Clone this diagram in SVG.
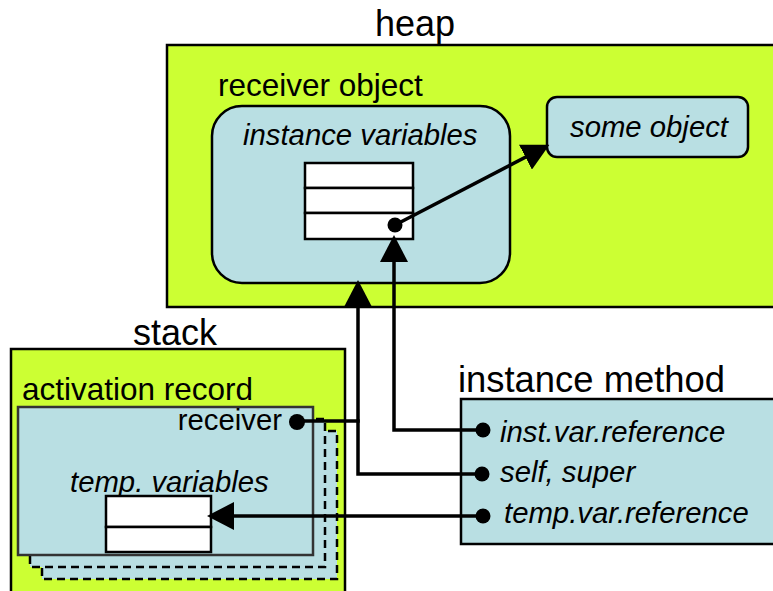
<svg xmlns="http://www.w3.org/2000/svg" width="773" height="591" viewBox="0 0 773 591">
<style>
.area{fill:#CCFF33;stroke:#000;stroke-width:2.5}
.obj{fill:#B9DFE3;stroke:#000;stroke-width:2.5}
.rec{fill:#B9DFE3;stroke:#333;stroke-width:2.5}
.dash{fill:#B9DFE3;stroke:#000;stroke-width:2.5;stroke-dasharray:8 5}
.cell{fill:#fff;stroke:#000;stroke-width:2.5}
.t{font-family:"Liberation Sans",Arial,sans-serif;fill:#000}
.big{font-size:36px}
.mid{font-size:31.5px}
.sm{font-size:29.3px}
.it{font-style:italic}
.conn{fill:none;stroke:#000;stroke-width:3.5}
.dot{fill:#000}
</style>
<defs>
<marker id="arr" markerUnits="userSpaceOnUse" viewBox="0 0 27 28" refX="22" refY="14" markerWidth="27" markerHeight="28" orient="auto">
<path d="M0,0 L27,14 L0,28 Z" fill="#000"/>
</marker>
</defs>

<g id="heap">
<text class="t big" x="375" y="36">heap</text>
<rect class="area" x="167" y="45" width="620" height="262"/>
</g>

<g id="receiver-object">
<text class="t mid" x="218" y="96">receiver object</text>
<rect class="obj" x="212" y="106" width="298" height="177" rx="30"/>
<text class="t sm it" x="243" y="145">instance variables</text>
<rect class="cell" x="305" y="163" width="108" height="25"/>
<rect class="cell" x="305" y="188" width="108" height="25"/>
<rect class="cell" x="305" y="213" width="108" height="26"/>
</g>

<g id="some-object">
<rect class="obj" x="547" y="97" width="201" height="60" rx="10"/>
<text class="t sm it" x="570" y="137">some object</text>
</g>

<g id="stack">
<text class="t big" x="133" y="345">stack</text>
<rect class="area" x="11" y="349" width="334" height="260"/>
</g>

<g id="activation-record">
<text class="t mid" x="22" y="400">activation record</text>
<rect class="dash" x="42" y="431" width="295" height="148"/>
<rect class="dash" x="30" y="419" width="295" height="148"/>
<rect class="rec" x="18" y="407" width="295" height="148"/>
<text class="t sm" x="282" y="430" text-anchor="end">receiver</text>
<text class="t sm it" x="70" y="492">temp. variables</text>
<rect class="cell" x="106" y="496" width="105" height="31"/>
<rect class="cell" x="106" y="527" width="105" height="25"/>
</g>

<g id="instance-method">
<text class="t big" x="458" y="392" textLength="267" lengthAdjust="spacingAndGlyphs">instance method</text>
<rect class="obj" x="461" y="399" width="320" height="145"/>
<text class="t sm it" x="500" y="442">inst.var.reference</text>
<text class="t sm it" x="500" y="482">self, super</text>
<text class="t sm it" x="504" y="523">temp.var.reference</text>
</g>

<g id="connectors">
<path class="conn" d="M395,225 L545,147" marker-end="url(#arr)"/>
<circle class="dot" cx="395" cy="225" r="7.5"/>
<path class="conn" d="M483,430 L394,430 L394,240" marker-end="url(#arr)"/>
<circle class="dot" cx="483" cy="430" r="7.5"/>
<path class="conn" d="M482,474 L358,474 L358,285" marker-end="url(#arr)"/>
<circle class="dot" cx="482" cy="474" r="7.5"/>
<path class="conn" d="M297,421 L359.75,421"/>
<circle class="dot" cx="297" cy="422" r="8"/>
<path class="conn" d="M483,516 L212,516" marker-end="url(#arr)"/>
<circle class="dot" cx="483" cy="516" r="7.5"/>
</g>
</svg>
